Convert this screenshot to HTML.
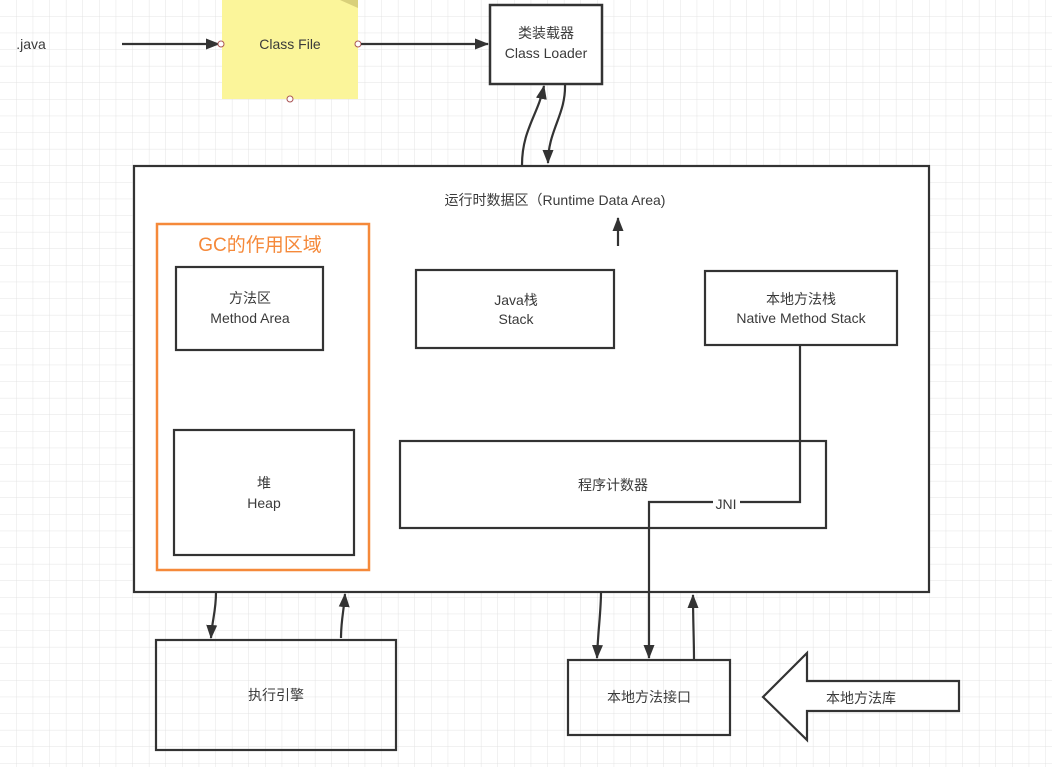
<!DOCTYPE html>
<html><head><meta charset="utf-8"><style>
html,body{margin:0;padding:0;background:#fff}
svg{display:block}
text{font-family:"Liberation Sans","Noto Sans CJK SC",sans-serif;fill:#3a3a3a;font-size:14px;text-anchor:middle}
</style></head><body>
<svg width="1052" height="767" viewBox="0 0 1052 767" xmlns="http://www.w3.org/2000/svg">
<defs>
<pattern id="g" width="16.6" height="16.6" patternUnits="userSpaceOnUse">
<path d="M16.6 0V16.6H0" fill="none" stroke="#e3e3e3" stroke-width="1"/>
</pattern>
<marker id="a" markerWidth="14" markerHeight="12" refX="13" refY="6" orient="auto" markerUnits="userSpaceOnUse">
<path d="M0,0.5 L14,6 L0,11.5 Z" fill="#333"/>
</marker>
</defs>
<rect width="1052" height="767" fill="url(#g)"/>
<g stroke="#333" stroke-width="2.2" fill="none">
<line x1="122" y1="44" x2="219" y2="44" marker-end="url(#a)"/>
</g>
<text x="31" y="49" style="text-anchor:middle">.java</text>
<rect x="222" y="0" width="136" height="99" fill="#fbf59a"/>
<path d="M340 0 L358 0 L358 8 Z" fill="#d9d07a"/>
<text x="290" y="49">Class File</text>
<circle cx="221" cy="44" r="3" fill="#fff" stroke="#a55" stroke-width="1"/>
<circle cx="358" cy="44" r="3" fill="#fff" stroke="#a55" stroke-width="1"/>
<circle cx="290" cy="99" r="3" fill="#fff" stroke="#a55" stroke-width="1"/>
<g stroke="#333" stroke-width="2.2" fill="none">
<line x1="361" y1="44" x2="488" y2="44" marker-end="url(#a)"/>
<rect x="490" y="5" width="112" height="79" fill="#fff" stroke-width="2.5"/>
<path d="M522 165 C522 130 538 115 544 86" marker-end="url(#a)"/>
<path d="M565 84 C566 115 548 130 548 163" marker-end="url(#a)"/>
<rect x="134" y="166" width="795" height="426" fill="#fff"/>
<line x1="618" y1="246" x2="618" y2="218" marker-end="url(#a)"/>
<rect x="176" y="267" width="147" height="83"/>
<rect x="174" y="430" width="180" height="125"/>
<rect x="416" y="270" width="198" height="78"/>
<rect x="705" y="271" width="192" height="74"/>
<rect x="400" y="441" width="426" height="87"/>
<polyline points="800,345 800,502 740,502"/>
<polyline points="713,502 649,502 649,658" marker-end="url(#a)"/>
<rect x="156" y="640" width="240" height="110"/>
<path d="M216 592 C216 612 212 620 211 638" marker-end="url(#a)"/>
<path d="M341 638 C341 620 344 610 345 594" marker-end="url(#a)"/>
<rect x="568" y="660" width="162" height="75"/>
<path d="M601 592 C601 612 598 630 597 658" marker-end="url(#a)"/>
<path d="M694 660 C694 640 693 620 693 595" marker-end="url(#a)"/>
<path d="M763 697 L807 653 L807 681 L959 681 L959 711 L807 711 L807 740 Z" fill="#fff"/>
</g>
<rect x="157" y="224" width="212" height="346" fill="none" stroke="#f5893a" stroke-width="2.5"/>
<text x="260" y="251" style="fill:#f5893a;font-size:19px">GC的作用区域</text>
<text x="546" y="38">类装载器</text>
<text x="546" y="58">Class Loader</text>
<text x="555" y="205">运行时数据区（Runtime Data Area)</text>
<text x="250" y="303">方法区</text>
<text x="250" y="323">Method Area</text>
<text x="264" y="488">堆</text>
<text x="264" y="508">Heap</text>
<text x="516" y="305">Java栈</text>
<text x="516" y="324">Stack</text>
<text x="801" y="304">本地方法栈</text>
<text x="801" y="323">Native Method Stack</text>
<text x="613" y="490">程序计数器</text>
<text x="726" y="509">JNI</text>
<text x="276" y="700">执行引擎</text>
<text x="649" y="702">本地方法接口</text>
<text x="861" y="703">本地方法库</text>
</svg>
</body></html>
